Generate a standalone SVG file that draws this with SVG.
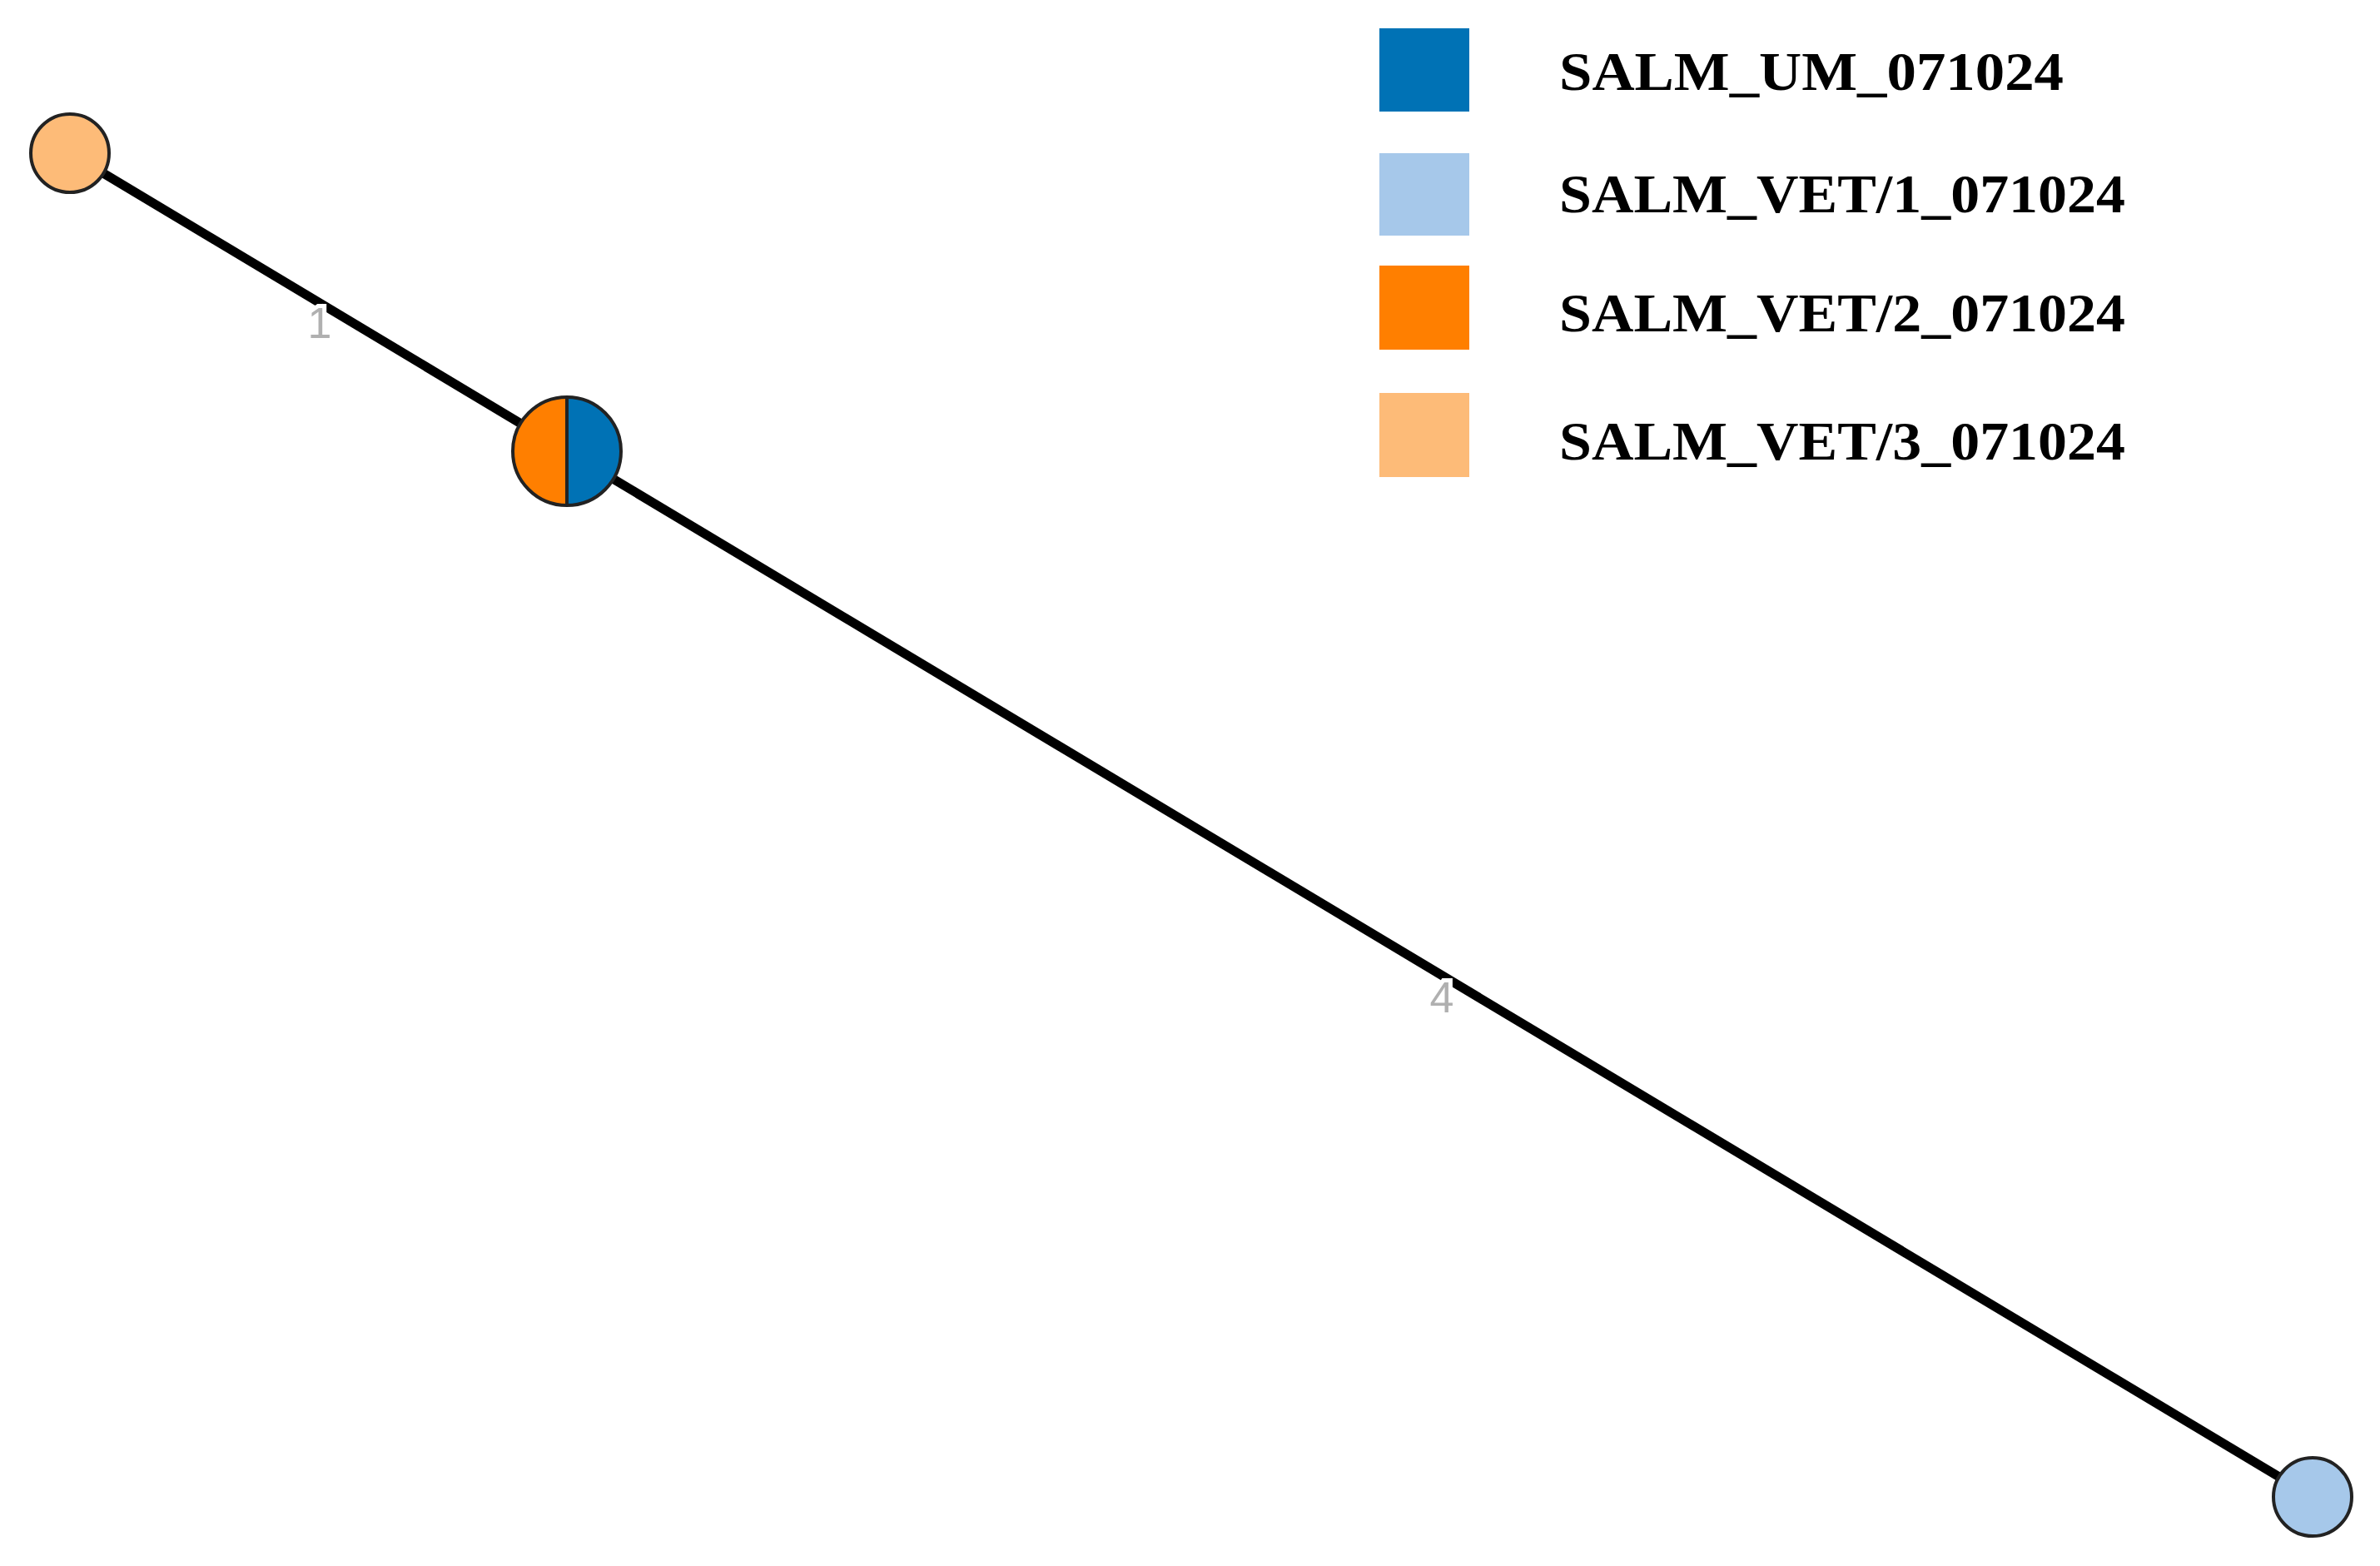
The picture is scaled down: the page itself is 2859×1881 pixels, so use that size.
<svg xmlns="http://www.w3.org/2000/svg" width="2859" height="1881" viewBox="0 0 2859 1881">
<style>
.node{stroke:#222;stroke-width:4}
.edge{stroke:#000;stroke-width:11;fill:none}
.elab{font-family:"Liberation Sans",Arial,sans-serif;font-size:52px;fill:#b0b0b0;stroke:#fff;stroke-width:10;paint-order:stroke;text-anchor:middle;dominant-baseline:central}
.leg{font-family:"Liberation Serif","Times New Roman",serif;font-weight:bold;font-size:66px;fill:#000}
</style>
<rect width="2859" height="1881" fill="#fff"/>
<g id="connectors">
<line class="edge" x1="84" y1="184" x2="681" y2="542"/>
<line class="edge" x1="681" y1="542" x2="2778" y2="1798"/>
<text class="elab" x="384" y="388">1</text>
<text class="elab" x="1732" y="1198">4</text>
</g>
<g id="node-vet3"><circle class="node" cx="84" cy="184" r="47" fill="#fdbb78"/></g>
<g id="node-um-vet2">
<path d="M681,477 A65,65 0 0 0 681,607 Z" fill="#ff7f00"/>
<path d="M681,477 A65,65 0 0 1 681,607 Z" fill="#0072b5"/>
<circle cx="681" cy="542" r="65" fill="none" stroke="#222" stroke-width="4"/>
<line x1="681" y1="477" x2="681" y2="607" stroke="#222" stroke-width="4"/>
</g>
<g id="node-vet1"><circle class="node" cx="2778" cy="1798" r="47" fill="#a6c8ea"/></g>
<g id="legend">
<rect x="1657" y="34" width="108" height="100" fill="#0072b5"/>
<rect x="1657" y="184" width="108" height="99" fill="#a6c8ea"/>
<rect x="1657" y="319" width="108" height="101" fill="#ff7f00"/>
<rect x="1657" y="472" width="108" height="101" fill="#fdbb78"/>
<text class="leg" x="1873" y="108" textLength="606" lengthAdjust="spacingAndGlyphs">SALM_UM_071024</text>
<text class="leg" x="1873" y="255" textLength="680" lengthAdjust="spacingAndGlyphs">SALM_VET/1_071024</text>
<text class="leg" x="1873" y="398" textLength="680" lengthAdjust="spacingAndGlyphs">SALM_VET/2_071024</text>
<text class="leg" x="1873" y="552" textLength="680" lengthAdjust="spacingAndGlyphs">SALM_VET/3_071024</text>
</g>
</svg>
